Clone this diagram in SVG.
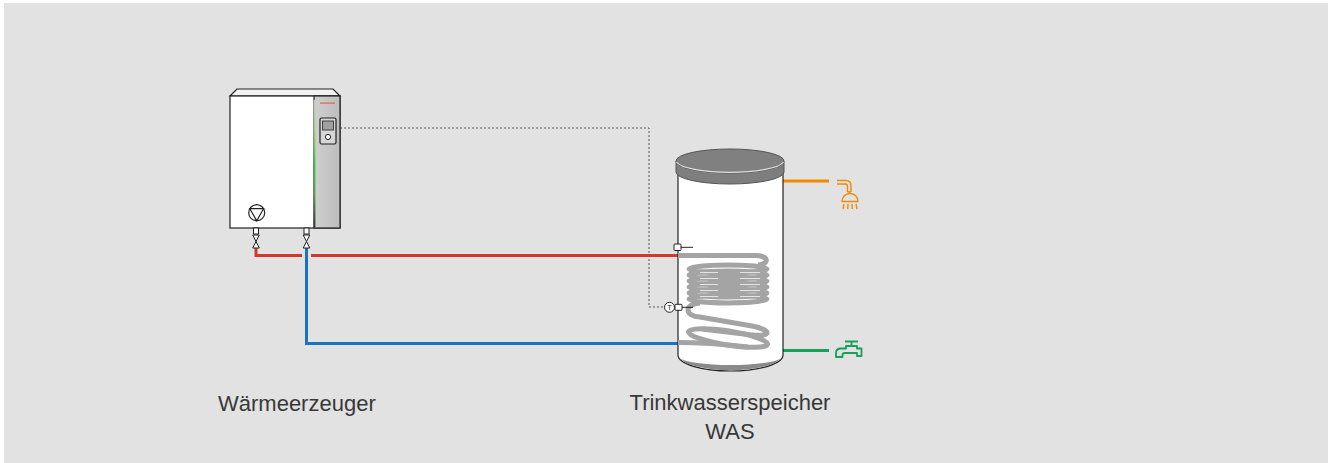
<svg xmlns="http://www.w3.org/2000/svg" width="1328" height="463" viewBox="0 0 1328 463">
  <defs>
    <style>
      .outline { stroke: #222; stroke-width: 1.2; }
      .label { font-family: "Liberation Sans", Arial, sans-serif; font-size: 22px; fill: #383838; }
      .pipe { fill: none; stroke-width: 3; }
      .coil { fill: none; stroke: #a4a4a4; stroke-width: 5; }
      .shine { fill: none; stroke: #e4e4e4; stroke-width: 1.1; }
      .icon-o { fill: none; stroke: #f08a00; stroke-width: 1.4; stroke-linejoin: round; }
      .icon-g { fill: none; stroke: #18a058; stroke-width: 1.8; stroke-linejoin: round; }
    </style>
    <linearGradient id="panel" x1="0" y1="0" x2="1" y2="0">
      <stop offset="0" stop-color="#cfcfcf"/>
      <stop offset="1" stop-color="#bdbdbd"/>
    </linearGradient>
    <linearGradient id="stripe" x1="0" y1="0" x2="0" y2="1">
      <stop offset="0" stop-color="#c8c8c8"/>
      <stop offset="0.25" stop-color="#9ccf7a"/>
      <stop offset="0.5" stop-color="#3cc83c"/>
      <stop offset="0.75" stop-color="#5a9a5a"/>
      <stop offset="1" stop-color="#333"/>
    </linearGradient>
  </defs>

  <!-- background -->
  <rect x="0" y="0" width="1328" height="463" fill="#ffffff"/>
  <rect x="4" y="3" width="1324" height="460" fill="#e2e2e2"/>

  <!-- pipes and signal line -->
  <g id="connectors">
    <path d="M340,128 H649 V307 H664" fill="none" stroke="#555" stroke-width="1" stroke-dasharray="2,2"/>
    <path class="pipe" stroke="#d3392b" d="M256,248 V255.5 H302"/>
    <path class="pipe" stroke="#d3392b" d="M311,255.5 H678"/>
    <path class="pipe" stroke="#1b72bf" d="M306.5,248 V343.5 H678"/>
    <path class="pipe" stroke="#f08a00" d="M783,181 H829"/>
    <path class="pipe" stroke="#18a058" d="M783,350.5 H829"/>
  </g>

  <!-- heat generator -->
  <g id="waermeerzeuger">
    <polygon points="230,96 237,89 333,89 340,96" fill="#f2f2f2" class="outline"/>
    <rect x="230" y="96" width="110" height="132" fill="#ffffff" class="outline"/>
    <rect x="314" y="96" width="26" height="132" fill="url(#panel)" class="outline"/>
    <rect x="313.6" y="100" width="1.8" height="127" fill="url(#stripe)"/>
    <rect x="320" y="102.5" width="15" height="1.2" fill="#e8605a"/>
    <rect x="320" y="118" width="16" height="26" rx="1.5" fill="#d6d6d6" class="outline"/>
    <rect x="322.5" y="121" width="11" height="9" fill="#a0a0a0" stroke="#333" stroke-width="0.9"/>
    <circle cx="328" cy="137" r="2.6" fill="#fff" stroke="#222" stroke-width="1"/>
    <!-- pump -->
    <circle cx="256.7" cy="212.7" r="8" fill="#fff" class="outline"/>
    <polygon points="249.8,208.7 263.6,208.7 256.7,220.7" fill="none" class="outline"/>
    <!-- valves -->
    <g fill="#fff" stroke="#222" stroke-width="1">
      <rect x="253.5" y="228" width="5" height="6"/>
      <polygon points="252.7,235 259.3,235 256,241.5"/>
      <polygon points="252.7,248 259.3,248 256,241.5"/>
      <rect x="304" y="228" width="5" height="6"/>
      <polygon points="303.2,235 309.8,235 306.5,241.5"/>
      <polygon points="303.2,248 309.8,248 306.5,241.5"/>
    </g>
  </g>

  <!-- storage tank with coil -->
  <g id="trinkwasserspeicher">
    <path d="M678,172 V355 A52.5,16 0 0 0 783,355 V172 Z" fill="#ffffff" class="outline"/>
    <path d="M680,358 A51,14 0 0 0 781,358 A51,8 0 0 1 680,358 Z" fill="#8a8a8a"/>
    <path d="M676,161 V172 A54,12 0 0 0 784,172 V161 Z" fill="#7e7e7e" stroke="#555" stroke-width="1"/>
    <ellipse cx="730" cy="161" rx="54" ry="12" fill="#808080" stroke="#555" stroke-width="1"/>
    <path d="M676.5,162 A54,12 0 0 0 783.5,162" fill="none" stroke="#e0e0e0" stroke-width="1.2"/>

    <!-- heating coil -->
    <path class="coil" d="M678,255.5 H755 C769,255.5 770,264 758,265"/>
    <ellipse class="coil" cx="728" cy="269" rx="39" ry="4"/>
    <ellipse class="coil" cx="728" cy="275" rx="39" ry="4"/>
    <ellipse class="coil" cx="728" cy="281" rx="39" ry="4"/>
    <ellipse class="coil" cx="728" cy="287" rx="39" ry="4"/>
    <ellipse class="coil" cx="728" cy="293" rx="39" ry="4"/>
    <ellipse class="coil" cx="728" cy="299" rx="39" ry="4"/>
    <path class="shine" d="M700,272.5 H718 M740,272.5 H760 M700,278.5 H718 M740,278.5 H760 M700,284.5 H718 M740,284.5 H760 M700,290.5 H718 M740,290.5 H760 M700,296.5 H718 M740,296.5 H760"/>
    <path class="coil" d="M700,303 C684,304 684,316 700,317 L752,326 C772,330 772,337 752,335 L702,329"/>
    <ellipse class="coil" cx="728" cy="338" rx="40" ry="7" transform="rotate(9 728 338)"/>
    <path class="coil" d="M678,342.5 C700,342.5 730,345 748,347"/>

    <!-- sensors -->
    <g stroke="#222" stroke-width="1" fill="#fff">
      <rect x="674" y="244" width="7" height="6.5" rx="1"/>
      <line x1="681" y1="247.3" x2="693" y2="247.3"/>
      <circle cx="669.5" cy="307.3" r="5"/>
      <rect x="675" y="304.3" width="7" height="6" rx="1"/>
      <line x1="682" y1="307.3" x2="693" y2="307.3"/>
    </g>
    <text x="669.5" y="310" text-anchor="middle" font-family="Liberation Sans, Arial, sans-serif" font-size="7.5" fill="#222">T</text>
  </g>

  <!-- shower -->
  <g id="dusche">
    <path class="icon-o" d="M837,180.5 H846 Q851,180.5 851,186 V192 M837,184 H845.5 Q847.5,184 847.5,186.5 V192 M847.5,192 H851"/>
    <path class="icon-o" d="M842,201.5 A8,8 0 0 1 858,201.5 Z"/>
    <path class="icon-o" d="M844,204 L843,209 M848,204 L847.7,209 M852,204 L852.3,209 M856,204 L857,209"/>
  </g>

  <!-- cold water tap -->
  <g id="zapfhahn">
    <path class="icon-g" d="M845,341.5 H858 M851.5,341.5 V346 M846,346 H857 V348.5 H861.5 V356 H857 V353 H845 Q842.5,353 842.5,355 V357 H836 V353 Q836,348.5 841,348.5 H846 Z"/>
  </g>

  <!-- labels -->
  <g id="labels">
    <text class="label" x="218" y="411">Wärmeerzeuger</text>
    <text class="label" x="730" y="410" text-anchor="middle">Trinkwasserspeicher</text>
    <text class="label" x="730" y="439" text-anchor="middle">WAS</text>
  </g>
</svg>
